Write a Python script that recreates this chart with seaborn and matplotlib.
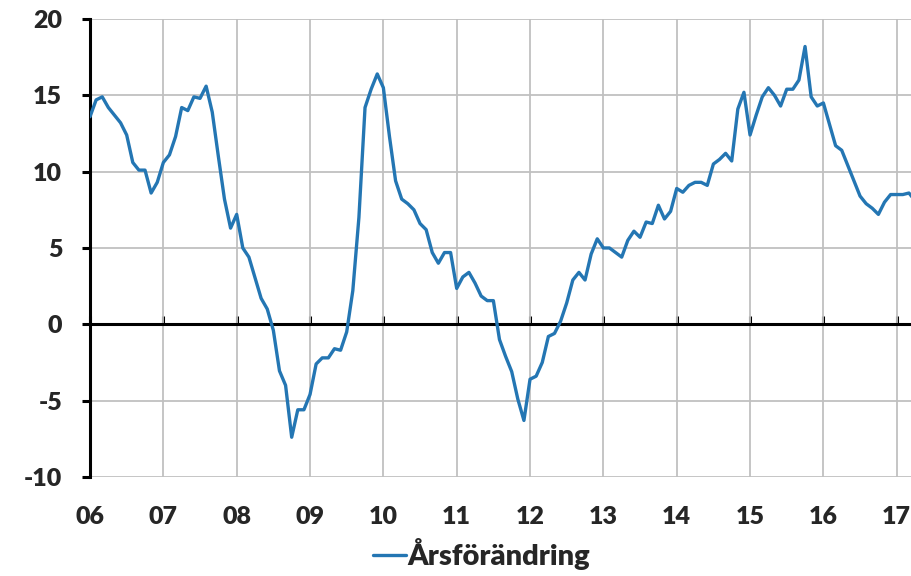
import numpy as np
import pandas as pd
import seaborn as sns
import matplotlib.pyplot as plt

sns.set_theme(style="white")
plt.rcParams['font.family'] = ['Lato', 'DejaVu Sans']
plt.rcParams['font.weight'] = 'heavy'
plt.rcParams['axes.unicode_minus'] = False

# monthly annual change, Jan 2006 - Apr 2017
values = [
    13.6, 14.7, 14.9, 14.2, 13.7, 13.2, 12.4, 10.6, 10.1, 10.1, 8.6, 9.3,
    10.6, 11.1, 12.3, 14.2, 14.0, 14.9, 14.8, 15.6, 13.9, 11.0, 8.2, 6.3,
    7.2, 5.0, 4.4, 3.05, 1.7, 1.0, -0.4, -3.05, -4.0, -7.4, -5.6, -5.6,
    -4.6, -2.6, -2.2, -2.2, -1.6, -1.7, -0.5, 2.2, 7.0, 14.2, 15.4, 16.4,
    15.5, 12.3, 9.4, 8.2, 7.9, 7.5, 6.6, 6.2, 4.7, 4.0, 4.7, 4.7,
    2.35, 3.1, 3.4, 2.7, 1.85, 1.55, 1.55, -1.0, -2.1, -3.1, -4.9, -6.3,
    -3.6, -3.4, -2.5, -0.8, -0.6, 0.2, 1.4, 2.9, 3.4, 2.9, 4.6, 5.6,
    5.0, 5.0, 4.7, 4.4, 5.5, 6.1, 5.7, 6.7, 6.6, 7.8, 6.9, 7.4,
    8.9, 8.65, 9.1, 9.3, 9.3, 9.1, 10.5, 10.8, 11.2, 10.7, 14.1, 15.2,
    12.4, 13.7, 14.9, 15.5, 15.0, 14.3, 15.4, 15.4, 16.0, 18.2, 14.9, 14.3,
    14.5, 13.1, 11.7, 11.4, 10.4, 9.4, 8.4, 7.9, 7.6, 7.2, 8.0, 8.5,
    8.5, 8.5, 8.6, 8.1,
]
years = list(range(2006, 2018))
year_labels = ["06", "07", "08", "09", "10", "11", "12", "13", "14", "15", "16", "17"]
y_ticks = [-10, -5, 0, 5, 10, 15, 20]

df = pd.DataFrame({"t": 2006 + np.arange(len(values)) / 12, "Årsförändring": values})

fig = plt.figure(figsize=(9.12, 5.76), dpi=100)
ax = fig.add_axes([0.0987, 0.172, 0.9013, 0.795])

sns.lineplot(data=df, x="t", y="Årsförändring", ax=ax, color="#2476b3", lw=2.4,
             label="Årsförändring", zorder=3)

ax.set_xlim(2006, 2006 + 134.5 / 12)
ax.set_ylim(-10, 20)
ax.set_xticks(years)
ax.set_xticklabels(year_labels)
ax.set_yticks(y_ticks)
ax.set_xlabel("")
ax.set_ylabel("")
ax.grid(True, color="#c0c0c0", lw=1.3)
ax.set_axisbelow(True)

for s in ["top", "right", "bottom"]:
    ax.spines[s].set_visible(False)
ax.spines["left"].set_color("black")
ax.spines["left"].set_linewidth(2.2)
ax.tick_params(axis="y", left=True, direction="out", length=6, width=2.2,
               color="black", labelsize=18, pad=14)
ax.tick_params(axis="x", bottom=False, labelsize=18, pad=15)

# zero line with small year ticks
ax.axhline(0, color="black", lw=2.2, zorder=2)
sec = ax.secondary_xaxis(1 / 3)
sec.set_xticks(years)
sec.tick_params(direction="in", length=6, width=2.2, color="black",
                labelbottom=False, labeltop=False)
sec.spines["bottom"].set_visible(False)
sec.spines["top"].set_visible(False)

ax.legend(loc="lower center", bbox_to_anchor=(0.528, -0.035), bbox_transform=fig.transFigure,
          frameon=False, fontsize=21, handlelength=1.1, handletextpad=0.05)

fig.savefig("out.png", dpi=100)
